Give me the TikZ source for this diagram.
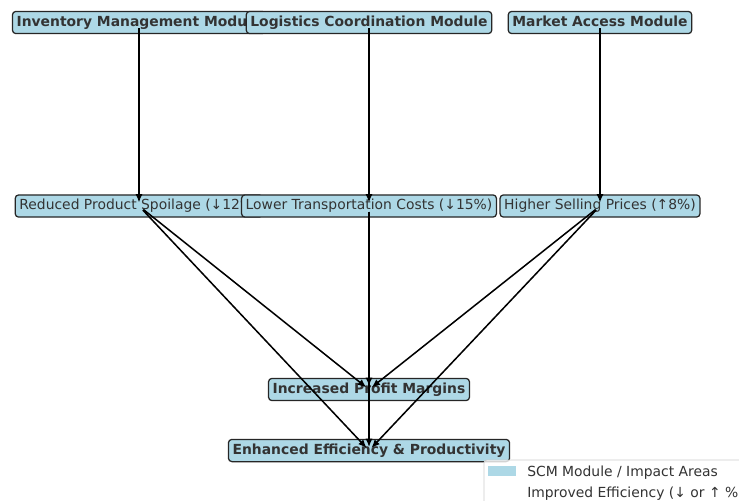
\documentclass[tikz,border=0pt]{standalone}
\usepackage{fontspec}
\setmainfont{DejaVu Sans}
\usetikzlibrary{arrows.meta}
\definecolor{boxblue}{HTML}{ADD8E6}
\definecolor{labelgray}{HTML}{333333}
\definecolor{framegray}{HTML}{CCCCCC}
\begin{document}
\begin{tikzpicture}[x=0.72pt,y=-0.72pt,
  box/.style={draw=black!85, line width=0.9pt, fill=boxblue, rounded corners=2.5pt,
    inner xsep=3pt, inner ysep=3pt, text height=7.6pt, text depth=2.4pt,
    text=labelgray, font=\fontsize{10}{12}\selectfont},
  modbox/.style={box, font=\fontsize{10}{12}\selectfont\bfseries},
  link/.style={draw=black, line width=1.1pt, shorten <=4pt, shorten >=2.5pt,
    -{Latex[length=6pt,width=5pt]}},
  legtext/.style={anchor=base west, inner sep=0pt, text=labelgray, font=\fontsize{10}{12}\selectfont}]
\useasboundingbox (0,0) rectangle (739,500);
\clip (0,0) rectangle (739,500);

% modules
\node[modbox] (inv) at (139,22.5) {Inventory Management Module};
\node[modbox] (log) at (369,22.5) {Logistics Coordination Module};
\node[modbox] (mkt) at (600,22.5) {Market Access Module};

% impact areas
\node[box] (spoil) at (139,206) {Reduced Product Spoilage (↓12\%)};
\node[box] (trans) at (369,206) {Lower Transportation Costs (↓15\%)};
\node[box] (price) at (600,206) {Higher Selling Prices (↑8\%)};

% outcomes
\node[modbox] (profit) at (369,389.5) {Increased Profit Margins};
\node[modbox] (eff) at (369,450.5) {Enhanced Efficiency \& Productivity};

% connectors
\draw[link] (inv.center) -- (spoil.center);
\draw[link] (log.center) -- (trans.center);
\draw[link] (mkt.center) -- (price.center);
\foreach \s in {spoil,trans,price}{
  \draw[link] (\s.center) -- (profit.center);
  \draw[link] (\s.center) -- (eff.center);
}

% legend
\draw[draw=framegray, line width=0.6pt, fill=white, fill opacity=0.8, rounded corners=2pt]
  (484,460) rectangle (760,520);
\fill[boxblue] (488,466) rectangle (516,476);
\node[legtext] (leg1) at (527,476) {SCM Module / Impact Areas};
\node[legtext] (leg2) at (527,497) {Improved Efficiency (↓ or ↑ \%)};
\end{tikzpicture}
\end{document}
